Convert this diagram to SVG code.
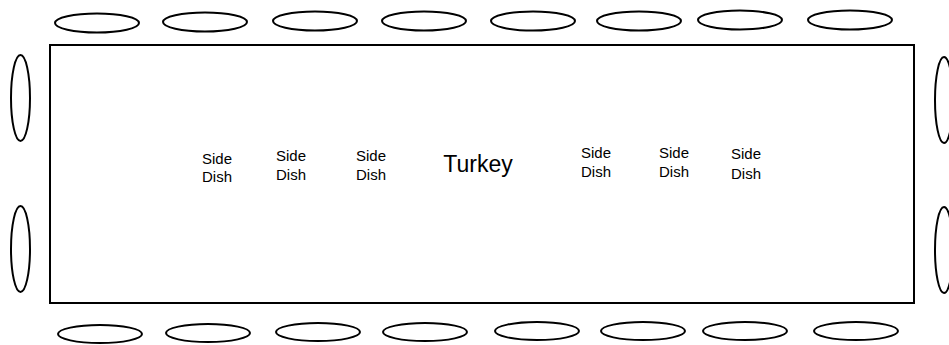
<svg xmlns="http://www.w3.org/2000/svg" width="949" height="345" viewBox="0 0 949 345">
<style>
.seat{fill:none;stroke:#000;stroke-width:2}
.tbl{fill:#fff;stroke:#000;stroke-width:2}
.t{font-family:"Liberation Sans",Arial,sans-serif;font-size:15px;fill:#000;text-anchor:middle}
.big{font-family:"Liberation Sans",Arial,sans-serif;font-size:23px;fill:#000;text-anchor:middle}
</style>
<rect width="949" height="345" fill="#fff"/>
<g id="table"><rect class="tbl" x="50" y="45" width="864" height="258"/></g>
<g id="seats-top">
<ellipse id="t1" class="seat" cx="97" cy="23" rx="42" ry="9.5"/>
<ellipse id="t2" class="seat" cx="205" cy="22" rx="42" ry="9.5"/>
<ellipse id="t3" class="seat" cx="315" cy="21" rx="42" ry="9.5"/>
<ellipse id="t4" class="seat" cx="424" cy="21" rx="42" ry="9.5"/>
<ellipse id="t5" class="seat" cx="533" cy="21" rx="42" ry="9.5"/>
<ellipse id="t6" class="seat" cx="639" cy="21" rx="42" ry="9.5"/>
<ellipse id="t7" class="seat" cx="740" cy="20" rx="42" ry="9.5"/>
<ellipse id="t8" class="seat" cx="850" cy="20" rx="42" ry="9.5"/>
</g>
<g id="seats-bottom">
<ellipse id="b1" class="seat" cx="100" cy="334" rx="42" ry="9"/>
<ellipse id="b2" class="seat" cx="208" cy="333" rx="42" ry="9"/>
<ellipse id="b3" class="seat" cx="318" cy="332" rx="42" ry="9"/>
<ellipse id="b4" class="seat" cx="425" cy="332" rx="42" ry="9"/>
<ellipse id="b5" class="seat" cx="537" cy="331" rx="42" ry="9"/>
<ellipse id="b6" class="seat" cx="643" cy="331" rx="42" ry="9"/>
<ellipse id="b7" class="seat" cx="745" cy="331" rx="42" ry="9"/>
<ellipse id="b8" class="seat" cx="856" cy="331" rx="42" ry="9"/>
</g>
<g id="seats-side">
<ellipse id="l1" class="seat" cx="20.5" cy="98" rx="9.5" ry="43"/>
<ellipse id="l2" class="seat" cx="20.5" cy="249" rx="9.5" ry="43"/>
<ellipse id="r1" class="seat" cx="944" cy="100" rx="9" ry="43"/>
<ellipse id="r2" class="seat" cx="944" cy="250" rx="9" ry="43"/>
</g>
<g id="dishes">
<g id="sd1"><text class="t" x="217" y="164">Side</text><text class="t" x="217" y="182">Dish</text></g>
<g id="sd2"><text class="t" x="291" y="161">Side</text><text class="t" x="291" y="180">Dish</text></g>
<g id="sd3"><text class="t" x="371" y="161">Side</text><text class="t" x="371" y="180">Dish</text></g>
<g id="turkey"><text class="big" x="478" y="172">Turkey</text></g>
<g id="sd4"><text class="t" x="596" y="158">Side</text><text class="t" x="596" y="177">Dish</text></g>
<g id="sd5"><text class="t" x="674" y="158">Side</text><text class="t" x="674" y="177">Dish</text></g>
<g id="sd6"><text class="t" x="746" y="159">Side</text><text class="t" x="746" y="179">Dish</text></g>
</g>
</svg>
